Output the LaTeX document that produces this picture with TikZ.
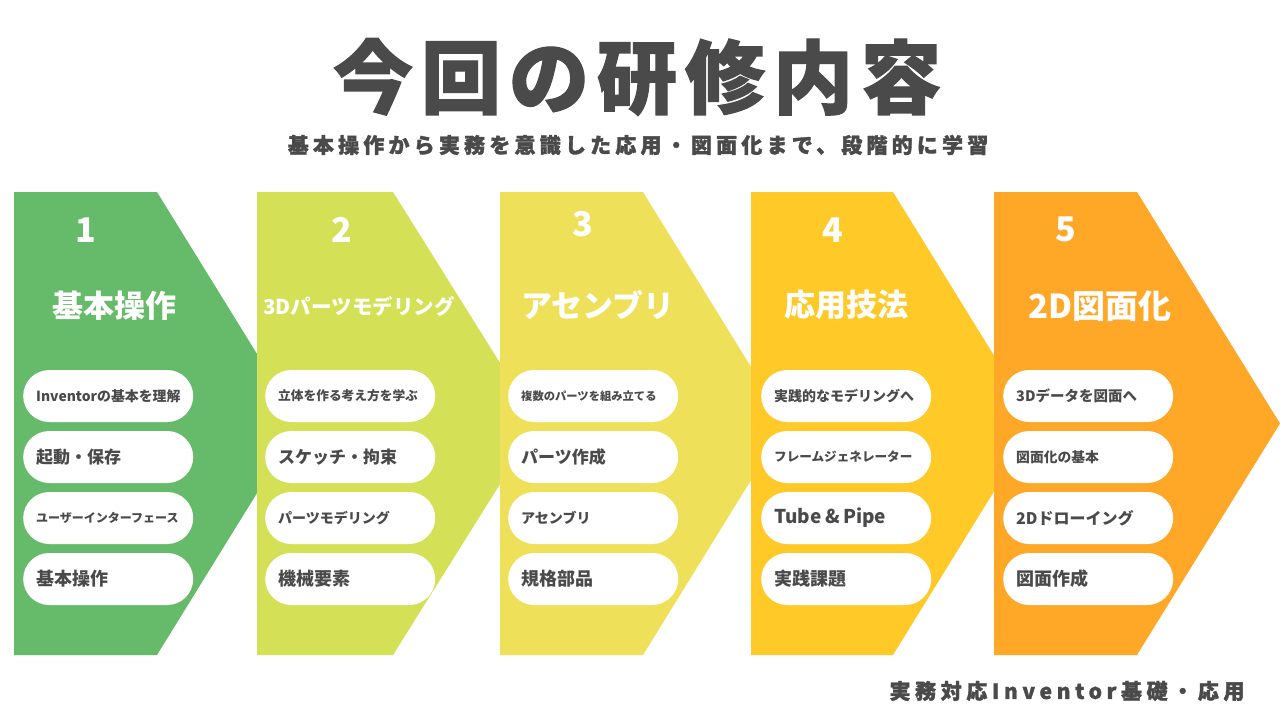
\documentclass[tikz,border=0pt]{standalone}
\usepackage{fontspec}
\newfontfamily\jp{Noto Sans CJK JP}
\newfontfamily\jpheavy{Noto Sans CJK JP}[FakeBold=1.6]
\definecolor{cA}{HTML}{66BB6A}
\definecolor{cB}{HTML}{D4E157}
\definecolor{cC}{HTML}{EFE05A}
\definecolor{cD}{HTML}{FFCA28}
\definecolor{cE}{HTML}{FFA726}
\definecolor{ink}{HTML}{4A4A4A}
\tikzset{
  pill/.style={fill=white, rounded corners=26pt, minimum height=52pt, text width=144pt,
    inner xsep=13pt, inner ysep=0pt, align=left, anchor=west, text=ink, font=\jp\bfseries},
  numlbl/.style={text=white, font=\jp\bfseries\fontsize{34}{34}\selectfont, inner sep=0pt},
  headlbl/.style={text=white, font=\jp\bfseries, inner sep=0pt},
}
\newcommand{\fs}[1]{\fontsize{#1}{#1}\selectfont}
\begin{document}
\begin{tikzpicture}[x=1pt,y=-1pt]
\useasboundingbox (0,0) rectangle (1280,720);
\fill[white] (0,0) rectangle (1280,720);
% title
\node[text=ink, inner sep=0pt, font=\jpheavy\bfseries\fs{80}\addfontfeatures{LetterSpace=10}] (title) at (637,77) {今回の研修内容};
\node[text=ink, inner sep=0pt, font=\jpheavy\bfseries\fs{21}\addfontfeatures{LetterSpace=20}] (sub) at (638,145) {基本操作から実務を意識した応用・図面化まで、段階的に学習};
% chevrons
\fill[cA] (14,192) -- (157,192) -- (300,423.5) -- (157,655) -- (14,655) -- cycle;
\fill[cB] (257,192) -- (393,192) -- (538,423.5) -- (393,655) -- (257,655) -- cycle;
\fill[cC] (500,192) -- (643,192) -- (786,423.5) -- (643,655) -- (500,655) -- cycle;
\fill[cD] (751,192) -- (893,192) -- (1036,423.5) -- (893,655) -- (751,655) -- cycle;
\fill[cE] (994,192) -- (1137,192) -- (1280,423.5) -- (1137,655) -- (994,655) -- cycle;
% numbers
\node[numlbl] (n1) at (86,230) {1};
\node[numlbl] (n2) at (342,230) {2};
\node[numlbl] (n3) at (583,224) {3};
\node[numlbl] (n4) at (833,230) {4};
\node[numlbl] (n5) at (1066,229) {5};
% headings
\node[headlbl, font=\jp\bfseries\fs{31}] (h1) at (114.5,306) {基本操作};
\node[headlbl, font=\jp\bfseries\fs{20.5}] (h2) at (359,307) {3Dパーツモデリング};
\node[headlbl, font=\jp\bfseries\fs{31}] (h3) at (598,305) {アセンブリ};
\node[headlbl, font=\jp\bfseries\fs{31}] (h4) at (846.5,305) {応用技法};
\node[headlbl, font=\jp\bfseries\fs{33}] (h5) at (1100,306) {2D図面化};
% column 1
\node[pill] (p11) at (23,396) {\fs{13.9}Inventorの基本を理解};
\node[pill] (p12) at (23,457) {\fs{17}起動・保存};
\node[pill] (p13) at (23,518) {\fs{12}ユーザーインターフェース};
\node[pill] (p14) at (23,579) {\fs{18}基本操作};
% column 2
\node[pill] (p21) at (265,396) {\fs{12.7}立体を作る考え方を学ぶ};
\node[pill] (p22) at (265,457) {\fs{17}スケッチ・拘束};
\node[pill] (p23) at (265,518) {\fs{14}パーツモデリング};
\node[pill] (p24) at (265,579) {\fs{18}機械要素};
% column 3
\node[pill] (p31) at (508,396) {\fs{11.3}複数のパーツを組み立てる};
\node[pill] (p32) at (508,457) {\fs{17}パーツ作成};
\node[pill] (p33) at (508,518) {\fs{14}アセンブリ};
\node[pill] (p34) at (508,579) {\fs{18}規格部品};
% column 4
\node[pill] (p41) at (761,396) {\fs{14}実践的なモデリングへ};
\node[pill] (p42) at (761,457) {\fs{12.6}フレームジェネレーター};
\node[pill] (p43) at (761,518) {\fs{19}Tube \& Pipe};
\node[pill] (p44) at (761,579) {\fs{18}実践課題};
% column 5
\node[pill] (p51) at (1003,396) {\fs{14.5}3Dデータを図面へ};
\node[pill] (p52) at (1003,457) {\fs{13.8}図面化の基本};
\node[pill] (p53) at (1003,518) {\fs{16}2Dドローイング};
\node[pill] (p54) at (1003,579) {\fs{18}図面作成};
% footer
\node[text=ink, inner sep=0pt, font=\jpheavy\bfseries\fs{21}\addfontfeatures{LetterSpace=22}] (foot) at (1067,691) {実務対応Inventor基礎・応用};
\end{tikzpicture}
\end{document}
